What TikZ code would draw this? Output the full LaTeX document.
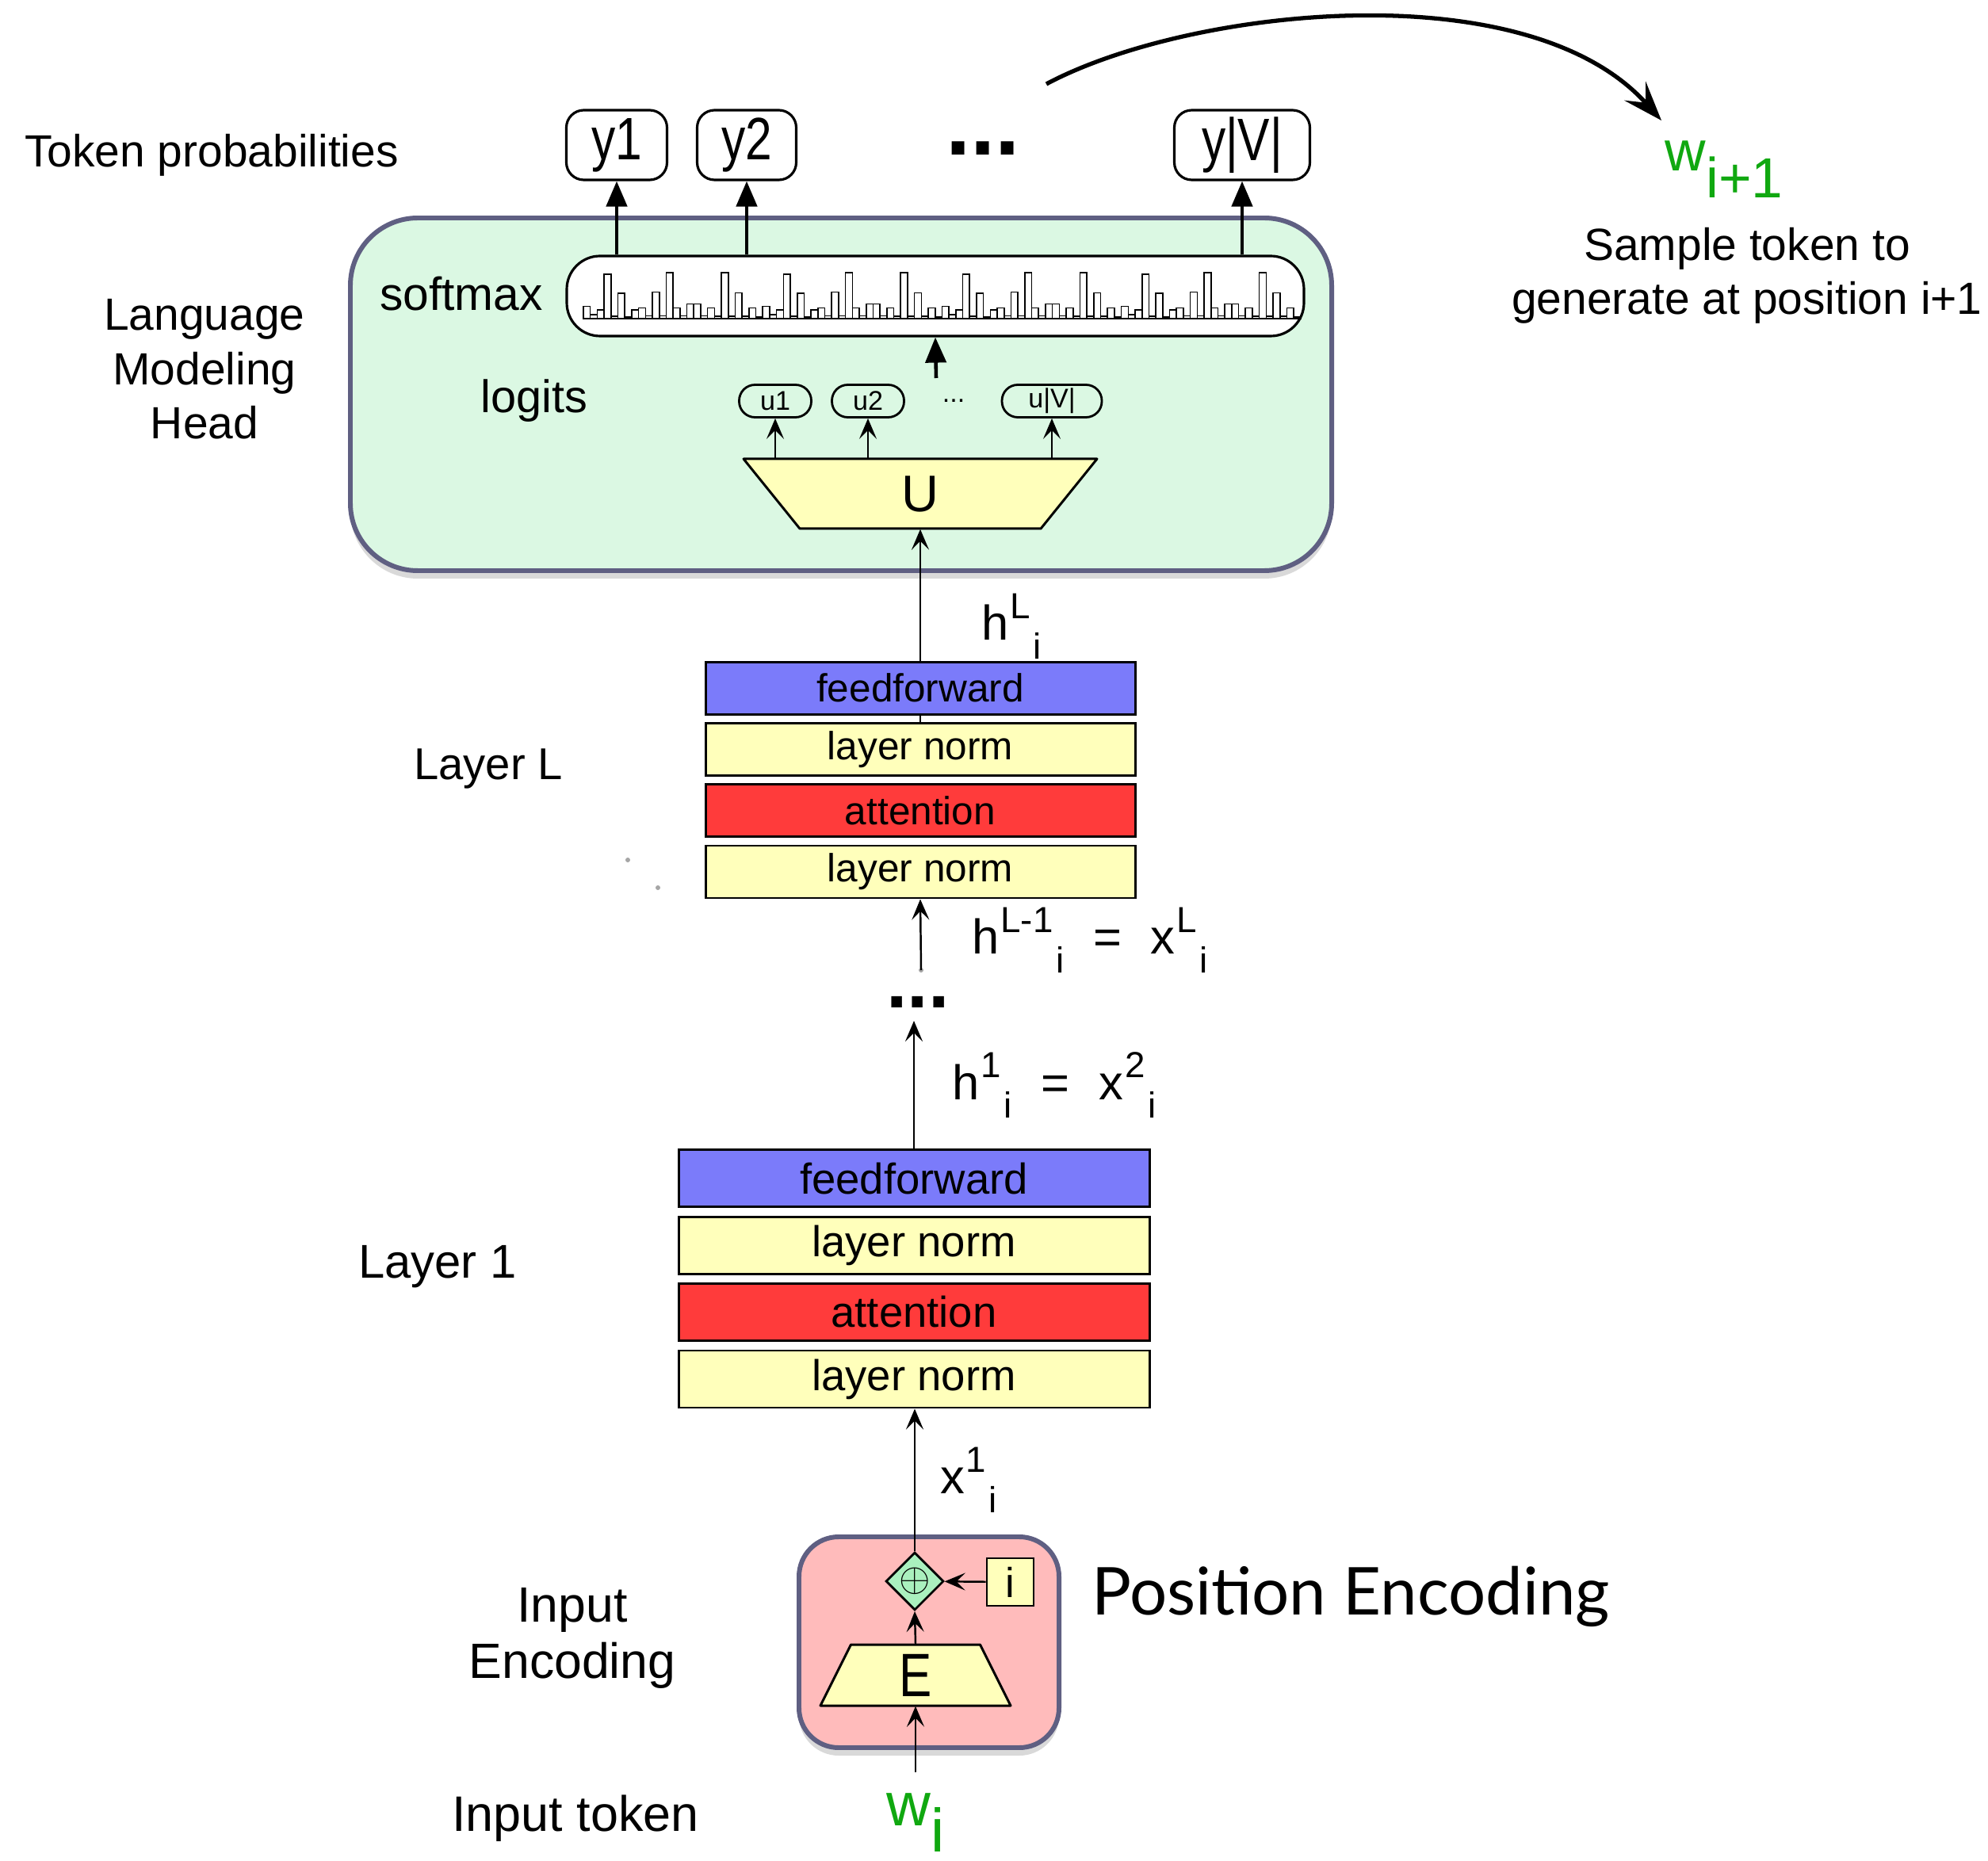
\documentclass[tikz,border=0pt]{standalone}
\usepackage{fontspec}
\setmainfont{Liberation Sans}
\newfontfamily\posfont{Lato}
\newfontfamily\narrowfont{Liberation Sans}[FakeStretch=0.8]
\usetikzlibrary{arrows.meta,shapes.geometric,shadows}
\definecolor{ffblue}{RGB}{123,123,250}
\definecolor{normyellow}{RGB}{255,255,187}
\definecolor{attred}{RGB}{255,59,59}
\definecolor{headgreen}{RGB}{219,248,227}
\definecolor{encpink}{RGB}{255,187,187}
\definecolor{frameblue}{RGB}{95,95,130}
\definecolor{plusgreen}{RGB}{170,240,190}
\definecolor{tokgreen}{RGB}{16,168,16}
\newlength{\BlockGapOne}
\setlength{\BlockGapOne}{0.95mm}
\newlength{\BlockGapL}
\setlength{\BlockGapL}{0.83mm}
\newcommand{\supsub}[3]{#1\kern0.5pt\raisebox{0.45em}{\fontsize{13}{13}\selectfont #2}\kern1pt\raisebox{-0.38em}{\fontsize{13}{13}\selectfont #3}}
\newcommand{\eqsp}{\hspace{0.6em}=\hspace{0.6em}}
\tikzset{/xf/block/.style={
	shape=rectangle, draw, line width=0.85pt, minimum width=5.94cm, minimum height=0.72cm, inner sep=0pt, font=\fontsize{15.5}{18}\selectfont
}}
\tikzset{/xf/blockL/.style={/xf/block, minimum width=5.42cm, minimum height=0.66cm, font=\fontsize{14.1}{16}\selectfont
}}
\tikzset{/xf/frame/.style={shape=rectangle, draw=frameblue, line width=1.7pt, rounded corners=0.85cm, drop shadow={shadow xshift=0pt, shadow yshift=-1mm, opacity=0.3}
}}
\tikzset{/xf/prob/.style={shape=rectangle, draw, line width=0.9pt, rounded corners=0.22cm, minimum height=0.88cm, inner sep=0pt, font=\narrowfont\fontsize{21.5}{21.5}\selectfont
}}
\tikzset{/xf/logit/.style={shape=rectangle, draw, line width=0.8pt, rounded corners=0.2cm, minimum height=0.41cm, inner sep=0pt, font=\fontsize{9.7}{10}\selectfont
}}
\tikzset{/xf/softbox/.style={shape=rectangle, draw, fill=white, line width=0.9pt, rounded corners=0.42cm, minimum width=9.30cm, minimum height=1.01cm
}}
\tikzset{/xf/label/.style={inner sep=0pt, align=center, font=\fontsize{16.2}{19.5}\selectfont}}
\tikzset{/xf/trap/.style={draw, fill=normyellow, line width=0.85pt, line join=round}}
\tikzset{/xf/arrow/.style={-{Stealth[length=2.6mm, width=2.2mm, inset=1.1mm]}, line width=0.7pt}}
\tikzset{/xf/probarrow/.style={-{Triangle[length=3.2mm, width=2.6mm]}, line width=1.3pt}}

\begin{document}
\begin{tikzpicture}
	\useasboundingbox (0,0) rectangle (25.08,-23.48);
	% frames
	\path node[/xf/frame, fill=headgreen, minimum width=12.38cm, minimum height=4.45cm] (head) at (10.61,-4.975) {};
	\path node[/xf/frame, fill=encpink, rounded corners=0.5cm, minimum width=3.28cm, minimum height=2.66cm] (enc) at (11.72,-20.72) {};
	% layer 1
	\path node[/xf/block, fill=normyellow] (ln1a) at (11.53,-17.40) {layer norm};
	\path (ln1a.north) ++ (0,\BlockGapOne) node[anchor=south, /xf/block, fill=attred] (att1) {attention};
	\path (att1.north) ++ (0,\BlockGapOne) node[anchor=south, /xf/block, fill=normyellow] (ln1b) {layer norm};
	\path (ln1b.north) ++ (0,\BlockGapOne) node[anchor=south, /xf/block, fill=ffblue] (ff1) {feedforward};
	% layer L
	\path node[/xf/blockL, fill=normyellow] (lnLa) at (11.61,-11.00) {layer norm};
	\path (lnLa.north) ++ (0,\BlockGapL) node[anchor=south, /xf/blockL, fill=attred] (attL) {attention};
	\path (attL.north) ++ (0,\BlockGapL) node[anchor=south, /xf/blockL, fill=normyellow] (lnLb) {layer norm};
	\path (lnLb.north) ++ (0,\BlockGapL) node[anchor=south, /xf/blockL, fill=ffblue] (ffL) {feedforward};
	\draw[line width=0.7pt] (lnLb.north) -- (ffL.south);
	% head
	\path node[/xf/softbox] (sm) at (11.80,-3.735) {};
	\foreach \rep in {0,1,2,3}
		\foreach \barh [count=\k] in {0.27,0.09,0.19,0.97,0.05,0.55,0.03,0.19,0.23,0.06,0.58,0.06,1.0,0.23,0.06,0.32,0.32,0.06,0.23,0.05,1.0,0.05,0.56,0.05,0.23,0.03}
			\draw[line width=0.45pt] ({7.36+2.262*\rep+0.087*(\k-1)},-4.02) rectangle ++(0.087,{0.58*\barh});
	\path node[/xf/logit, minimum width=0.91cm] (u1) at (9.78,-5.06) {u1};
	\path node[/xf/logit, minimum width=0.91cm] (u2) at (10.95,-5.06) {u2};
	\path node[/xf/logit, minimum width=1.26cm] (uV) at (13.27,-5.06) {u|V|};
	\path node[inner sep=0pt, font=\fontsize{9.7}{10}\selectfont] (udots) at (12.03,-5.06) {...};
	\coordinate (Uc) at (11.61,-6.23);
	\draw[/xf/trap] ([shift={(-2.23,0.44)}]Uc) -- ([shift={(2.23,0.44)}]Uc) -- ([shift={(1.52,-0.44)}]Uc) -- ([shift={(-1.52,-0.44)}]Uc) -- cycle;
	\path node[minimum width=4.46cm, minimum height=0.88cm, inner sep=0pt, font=\fontsize{18.5}{18.5}\selectfont] (U) at (Uc) {U};
	% token probabilities
	\path node[/xf/prob, minimum width=1.27cm] (y1) at (7.78,-1.83) {y1};
	\path node[/xf/prob, minimum width=1.25cm] (y2) at (9.42,-1.83) {y2};
	\path node[/xf/prob, minimum width=1.71cm] (yV) at (15.67,-1.83) {y|V|};
	\path node[inner sep=0pt, font=\fontsize{32}{32}\selectfont\bfseries] (ydots) at (12.40,-1.87) {...};
	% input encoding
	\coordinate (Ec) at (11.55,-21.135);
	\draw[/xf/trap] ([shift={(-0.815,0.385)}]Ec) -- ([shift={(0.815,0.385)}]Ec) -- ([shift={(1.20,-0.385)}]Ec) -- ([shift={(-1.20,-0.385)}]Ec) -- cycle;
	\path node[minimum width=2.40cm, minimum height=0.77cm, inner sep=0pt, font=\narrowfont\fontsize{22}{22}\selectfont] (E) at (Ec) {E};
	\path node[diamond, draw, fill=plusgreen, line width=0.8pt, inner sep=0pt, minimum width=0.58cm, minimum height=0.62cm, font=\fontsize{15}{15}\selectfont] (plus) at (11.54,-19.95) {$\oplus$};
	\path node[draw, fill=normyellow, line width=0.8pt, minimum width=0.59cm, minimum height=0.60cm, inner sep=0pt, font=\fontsize{15}{15}\selectfont] (ipos) at (12.745,-19.96) {i};
	\path node[anchor=base, inner sep=0pt, text=tokgreen, font=\fontsize{22}{22}\selectfont] (wi) at (11.55,-23.03) {w\raisebox{-0.43em}{i}};
	% side texts
	\path node[/xf/label] (tokprob) at (2.67,-1.96) {Token probabilities};
	\path node[/xf/label] (lmhead) at (2.58,-4.66) {Language\\Modeling\\Head};
	\path node[/xf/label, font=\fontsize{16.7}{19.5}\selectfont] (softlab) at (5.82,-3.71) {softmax};
	\path node[/xf/label, font=\fontsize{16.4}{19.5}\selectfont] (loglab) at (6.74,-5.06) {logits};
	\path node[/xf/label, font=\fontsize{16}{19.5}\selectfont] (layLlab) at (6.16,-9.70) {Layer L};
	\path node[/xf/label, font=\fontsize{17}{19.5}\selectfont] (lay1lab) at (5.52,-15.98) {Layer 1};
	\path node[/xf/label, font=\fontsize{17.8}{20}\selectfont] (inenc) at (7.22,-20.67) {Input\\Encoding};
	\path node[/xf/label, font=\fontsize{17.9}{20}\selectfont] (intok) at (7.26,-22.94) {Input token};
	\path node[inner sep=0pt, font=\posfont\fontsize{23.7}{24}\selectfont] (posenc) at (17.04,-20.14) {Position Encoding};
	\path node[inner sep=0pt, text=tokgreen, font=\fontsize{20.3}{20}\selectfont] (wnext) at (21.75,-2.14) {w\raisebox{-0.48em}{i+1}};
	\path node[/xf/label] (sample) at (22.04,-3.48) {Sample token to\\generate at position i+1};
	\path node[/xf/label, font=\fontsize{17.5}{19}\selectfont] (hL) at (12.76,-7.90) {\supsub{h}{L}{i}};
	\path node[/xf/label, font=\fontsize{17.5}{19}\selectfont] (hLm) at (13.75,-11.86) {\supsub{h}{L-1}{i}\eqsp\supsub{x}{L}{i}};
	\path node[/xf/label, font=\fontsize{17.5}{19}\selectfont] (hone) at (13.30,-13.69) {\supsub{h}{1}{i}\eqsp\supsub{x}{2}{i}};
	\path node[/xf/label, font=\fontsize{17.5}{19}\selectfont] (xone) at (12.22,-18.67) {\supsub{x}{1}{i}};
	\path node[inner sep=0pt, font=\fontsize{27}{27}\selectfont\bfseries] (ldots) at (11.58,-12.64) {...};
	% connectors
	\draw[/xf/arrow] ([yshift=2.5mm]wi.north -| E.south) -- (E.south);
	\draw[/xf/arrow] (E.north) -- (plus.south);
	\draw[/xf/arrow] (ipos) -- (plus);
	\draw[/xf/arrow] (plus.north) -- (plus.north |- ln1a.south);
	\draw[/xf/arrow] (ff1.north) -- ([yshift=-2.4mm]ff1.north |- ldots.center);
	\coordinate (gapL) at (11.62,-12.24);
	\fill[black!35] (gapL) circle (0.03);
	\fill[black!35] (7.92,-10.85) circle (0.03);
	\fill[black!35] (8.30,-11.20) circle (0.03);
	\draw[/xf/arrow] (gapL) -- (lnLa.south);
	\draw[/xf/arrow] (ffL.north) -- (ffL.north |- U.south);
	\draw[/xf/arrow] (U.north -| u1) -- (u1.south);
	\draw[/xf/arrow] (U.north -| u2) -- (u2.south);
	\draw[/xf/arrow] (U.north -| uV) -- (uV.south);
	\coordinate (logtop) at (11.81,-4.77);
	\draw[/xf/probarrow] (logtop) -- (sm.south);
	\draw[/xf/probarrow] (sm.north -| y1) -- (y1.south);
	\draw[/xf/probarrow] (sm.north -| y2) -- (y2.south);
	\draw[/xf/probarrow] (sm.north -| yV) -- (yV.south);
	\coordinate (loopA) at (13.20,-1.06);
	\coordinate (loopB) at (20.96,-1.52);
	\draw[-{Stealth[length=5mm, width=3.6mm, inset=2mm]}, line width=1.5pt] (loopA) .. controls (15.0,-0.1) and (19.27,0.37) .. (loopB);
\end{tikzpicture}
\end{document}
